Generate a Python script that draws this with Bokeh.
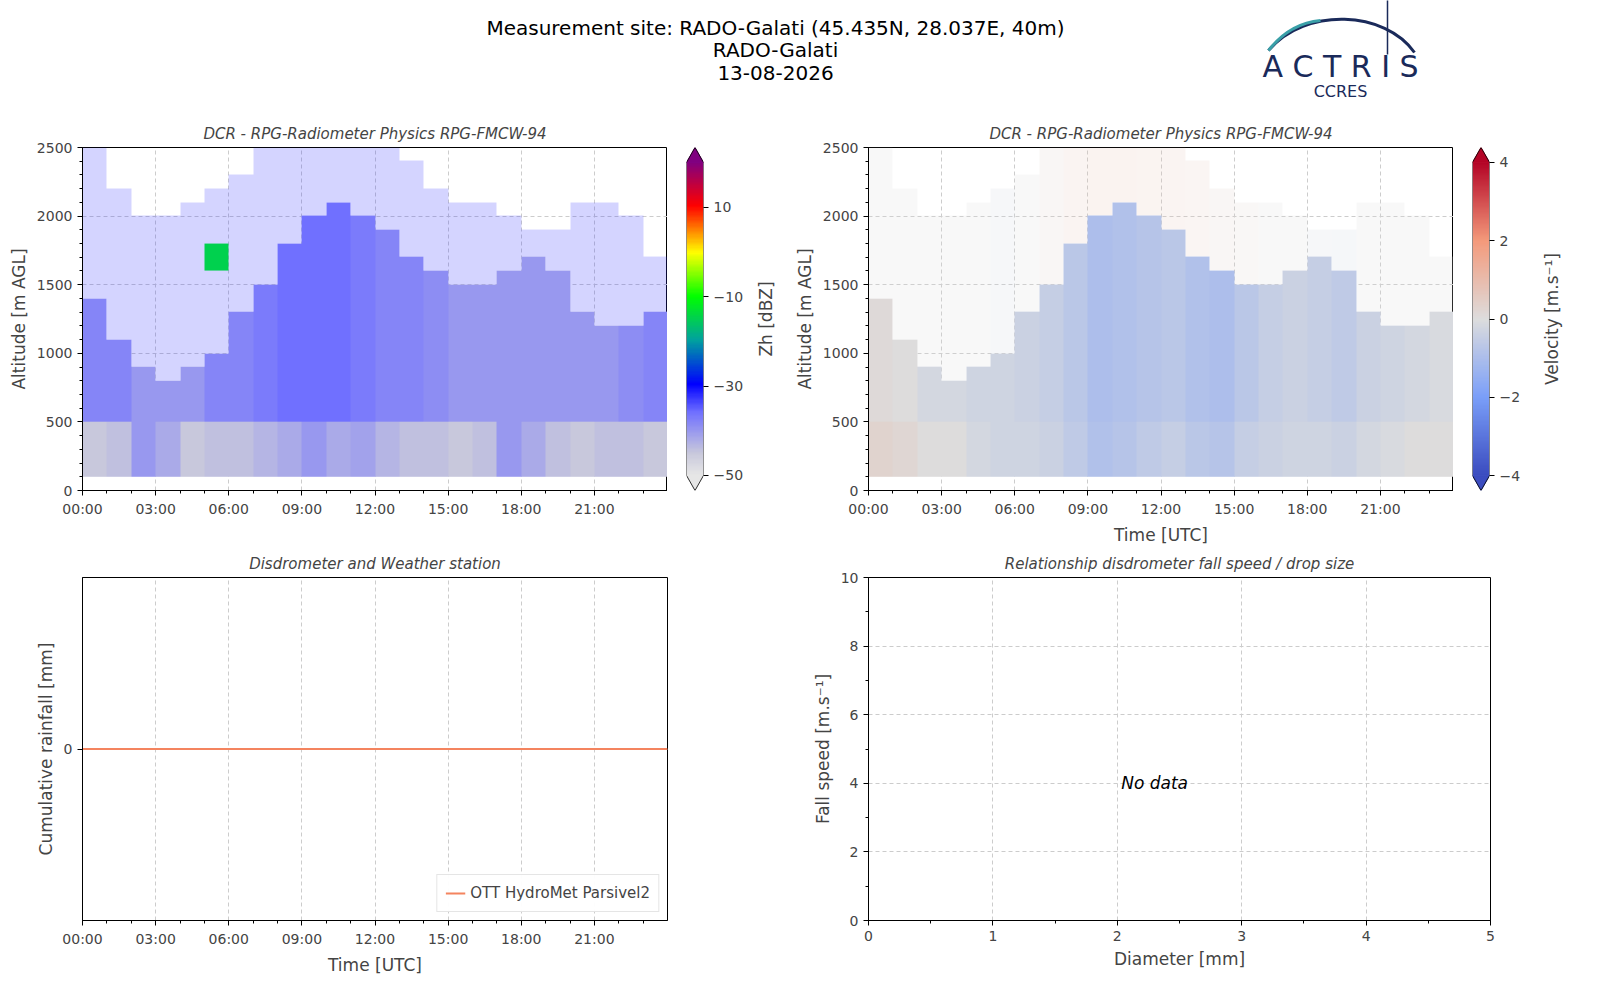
import numpy as np
from bokeh.plotting import figure
from bokeh.layouts import column, row
from bokeh.models import LinearColorMapper, FixedTicker, Legend, LegendItem
from bokeh.embed import file_html
from bokeh.resources import INLINE
from bokeh.core.properties import value

# ---------------- data ----------------
hours = list(range(24))
heights = list(range(100, 2500, 100))
time_ticks = [0, 3, 6, 9, 12, 15, 18, 21]
time_labels = ["00:00", "03:00", "06:00", "09:00", "12:00", "15:00", "18:00", "21:00"]

echo_top = [1400, 1100, 900, 800, 900, 1000, 1300, 1500, 1800, 2000, 2100, 2000,
            1900, 1700, 1600, 1500, 1500, 1600, 1700, 1600, 1300, 1200, 1200, 1300]
sparse_top = [2500, 2200, 2000, 2000, 2100, 2200, 2300, 2500, 2500, 2500, 2500, 2500,
              2500, 2400, 2200, 2100, 2100, 2000, 1900, 1900, 2100, 2100, 2000, 1700]
zh_low = [-45, -44, -40, -42, -45, -44, -44, -43, -42, -40, -42, -41,
          -43, -44, -44, -45, -44, -40, -42, -44, -45, -44, -44, -45]
zh_mid = [-38, -38, -40, -40, -40, -38, -38, -37, -36, -36, -36, -37,
          -38, -38, -39, -40, -40, -40, -40, -40, -40, -40, -39, -38]
zh_sparse = -32
blob_hour, blob_base, blob_top, blob_zh = 5, 1600, 1800, -15

v_low = [0.3, 0.2, 0.0, 0.0, -0.2, -0.3, -0.3, -0.4, -0.6, -0.9, -0.8, -0.6,
         -0.5, -0.7, -0.8, -0.5, -0.4, -0.3, -0.3, -0.4, -0.2, -0.1, 0.0, 0.0]
v_mid = [0.1, 0.0, -0.2, -0.2, -0.3, -0.3, -0.4, -0.5, -0.7, -1.0, -0.9, -0.8,
         -0.7, -0.9, -1.0, -0.7, -0.5, -0.4, -0.5, -0.6, -0.4, -0.3, -0.2, -0.1]
v_sparse = [0.0, 0.0, 0.0, 0.0, 0.0, -0.2, 0.0, 0.3, 0.6, 0.8, 0.8, 0.7,
            0.6, 0.5, 0.3, 0.2, 0.0, 0.0, -0.2, -0.3, 0.0, 0.0, 0.0, 0.0]

rain_time = [0, 24]
rain_cum = [0, 0]

# ---------------- grids ----------------
def build(low, mid, sparse_vals):
    nh, nt = len(heights), len(hours)
    dense = np.full((nh, nt), np.nan)
    sparse = np.full((nh, nt), np.nan)
    for j in range(nt):
        for i, h in enumerate(heights):
            if h < echo_top[j]:
                dense[i, j] = low[j] if h < 500 else mid[j]
            elif h < sparse_top[j]:
                sparse[i, j] = sparse_vals[j]
    return dense, sparse

zh_dense, zh_sp = build(zh_low, zh_mid, [zh_sparse] * 24)
for i, h in enumerate(heights):
    if blob_base <= h < blob_top:
        zh_dense[i, blob_hour] = blob_zh
v_dense, v_sp = build(v_low, v_mid, v_sparse)

# ---------------- palettes ----------------
def make_pal(anchors, n=256):
    pos = [a[0] for a in anchors]
    cols = [tuple(int(a[1][k:k + 2], 16) for k in (1, 3, 5)) for a in anchors]
    out = []
    for t in np.linspace(0, 1, n):
        r = [np.interp(t, pos, [c[k] for c in cols]) for k in range(3)]
        out.append("#%02x%02x%02x" % tuple(int(round(x)) for x in r))
    return out

zh_pal = make_pal([(0, "#e6e6e6"), (0.07, "#c8c8dc"), (0.2, "#7070ff"), (0.29, "#0000ff"),
                   (0.43, "#00a0a0"), (0.57, "#00ff00"), (0.71, "#ffff00"),
                   (0.86, "#ff0000"), (1.0, "#800080")])
v_pal = make_pal([(0, "#3b4cc0"), (0.25, "#7b9ff9"), (0.5, "#dddddd"),
                  (0.75, "#f49a7b"), (1.0, "#b40426")])
zh_map = LinearColorMapper(palette=zh_pal, low=-50, high=20, nan_color="rgba(0,0,0,0)")
v_map = LinearColorMapper(palette=v_pal, low=-4, high=4, nan_color="rgba(0,0,0,0)")

FONT = "DejaVu Sans"

def style(p, title=None):
    p.toolbar_location = None
    if title:
        p.title.text = title
        p.title.align = "center"
        p.title.text_font_style = "italic"
        p.title.text_font_size = "15px"
        p.title.text_font = FONT
    p.outline_line_color = "black"
    for ax in p.axis:
        ax.axis_label_text_font = FONT
        ax.axis_label_text_font_size = "17px"
        ax.axis_label_text_font_style = "normal"
        ax.major_label_text_font = FONT
        ax.major_label_text_font_size = "14px"
        ax.major_tick_out = 5
        ax.major_tick_in = 0
        ax.minor_tick_out = 3
        ax.minor_tick_in = 0
        ax.axis_line_color = "black"
    p.grid.grid_line_color = "#cccccc"
    p.grid.grid_line_dash = "4 3"
    p.background_fill_color = "white"

def time_axis(p):
    p.xaxis.ticker = FixedTicker(ticks=time_ticks, minor_ticks=hours)
    p.xaxis.major_label_overrides = {t: l for t, l in zip(time_ticks, time_labels)}

def radar_fig(dense, sparse, cmap, title, xlabel):
    p = figure(frame_width=585, frame_height=343, x_range=(0, 24), y_range=(0, 2500),
               output_backend="svg", toolbar_location=None,
               min_border_left=82, min_border_right=0, min_border_top=28, min_border_bottom=50)
    p.image(image=[sparse], x=0, y=100, dw=24, dh=2400, color_mapper=cmap, global_alpha=0.2)
    p.image(image=[dense], x=0, y=100, dw=24, dh=2400, color_mapper=cmap)
    style(p, title)
    time_axis(p)
    p.yaxis.ticker = FixedTicker(ticks=[0, 500, 1000, 1500, 2000, 2500],
                                 minor_ticks=list(range(0, 2600, 100)))
    p.yaxis.axis_label = "Altitude [m AGL]"
    if xlabel:
        p.xaxis.axis_label = xlabel
    return p

def cbar_fig(cmap, lo, hi, ext, ticks, label):
    p = figure(frame_width=17, frame_height=343, x_range=(0, 1), y_range=(lo - ext, hi + ext),
               output_backend="svg", toolbar_location=None, y_axis_location="right",
               min_border_left=19, min_border_right=46, min_border_top=28, min_border_bottom=50)
    p.image(image=[np.linspace(lo, hi, 256).reshape(-1, 1)], x=0, y=lo, dw=1, dh=hi - lo,
            color_mapper=cmap)
    p.patch([0, 1, 0.5], [hi, hi, hi + ext], color=cmap.palette[-1])
    p.patch([0, 1, 0.5], [lo, lo, lo - ext], color=cmap.palette[0])
    p.line([0, 0.5, 1, 1, 0.5, 0, 0], [lo, lo - ext, lo, hi, hi + ext, hi, lo],
           line_color="black", line_width=0.8)
    style(p)
    p.outline_line_color = None
    p.xaxis.visible = False
    p.grid.visible = False
    p.yaxis.ticker = FixedTicker(ticks=ticks)
    p.yaxis.axis_line_color = None

    # label strip: a left axis that shows only its label (reads bottom to top)
    q = figure(frame_width=1, frame_height=343, x_range=(0, 1), y_range=(lo - ext, hi + ext),
               output_backend="svg", toolbar_location=None,
               min_border_left=26, min_border_right=7, min_border_top=28, min_border_bottom=50)
    style(q)
    q.outline_line_color = None
    q.xaxis.visible = False
    q.grid.visible = False
    q.yaxis.ticker = FixedTicker(ticks=[])
    q.yaxis.axis_line_color = None
    q.yaxis.major_tick_out = 0
    q.yaxis.minor_tick_out = 0
    q.yaxis.major_label_text_font_size = "0px"
    q.yaxis.axis_label = label
    q.yaxis.axis_label_standoff = 0
    return p, q

f1 = radar_fig(zh_dense, zh_sp, zh_map, "DCR - RPG-Radiometer Physics RPG-FMCW-94", None)
c1, l1 = cbar_fig(zh_map, -50, 20, 3.36, [-50, -30, -10, 10], "Zh [dBZ]")
f2 = radar_fig(v_dense, v_sp, v_map, "DCR - RPG-Radiometer Physics RPG-FMCW-94", "Time [UTC]")
f2.min_border_left = 85
c2, l2 = cbar_fig(v_map, -4, 4, 0.38, [-4, -2, 0, 2, 4], "Velocity [m.s⁻¹]")

f3 = figure(frame_width=585, frame_height=343, x_range=(0, 24), y_range=(-0.05, 0.05),
            output_backend="svg", toolbar_location=None,
            min_border_left=82, min_border_right=116, min_border_top=28, min_border_bottom=60)
r = f3.line(rain_time, rain_cum, line_color="#f4845f", line_width=2)
style(f3, "Disdrometer and Weather station")
time_axis(f3)
f3.yaxis.ticker = FixedTicker(ticks=[0])
f3.yaxis.axis_label = "Cumulative rainfall [mm]"
f3.xaxis.axis_label = "Time [UTC]"
leg = Legend(items=[LegendItem(label="OTT HydroMet Parsivel2", renderers=[r])],
             location="bottom_right", label_text_font=FONT, label_text_font_size="15px",
             border_line_color="#cccccc", label_height=18, padding=8, margin=8)
f3.add_layout(leg)

f4 = figure(frame_width=622, frame_height=343, x_range=(0, 5), y_range=(0, 10),
            output_backend="svg", toolbar_location=None,
            min_border_left=85, min_border_right=10, min_border_top=28, min_border_bottom=60)
style(f4, "Relationship disdrometer fall speed / drop size")
f4.xaxis.ticker = FixedTicker(ticks=[0, 1, 2, 3, 4, 5], minor_ticks=list(np.arange(0, 5.01, 0.5)))
f4.yaxis.ticker = FixedTicker(ticks=[0, 2, 4, 6, 8, 10], minor_ticks=list(range(0, 11)))
f4.xaxis.axis_label = "Diameter [mm]"
f4.yaxis.axis_label = "Fall speed [m.s⁻¹]"
f4.text(x=[2.3], y=[4], text=["No data"], text_align="center", text_baseline="middle",
        text_font=value(FONT), text_font_style="italic", text_font_size="17px")

# header
h = figure(width=1560, height=117, x_range=(0, 1560), y_range=(117, 0),
           output_backend="svg", toolbar_location=None, min_border=0)
h.axis.visible = False
h.grid.visible = False
h.outline_line_color = None
h.text(x=[775, 775, 775], y=[27, 49, 72],
       text=["Measurement site: RADO-Galati (45.435N, 28.037E, 40m)", "RADO-Galati", "13-08-2026"],
       text_align="center", text_baseline="middle", text_font=value(FONT), text_font_size="20px")
h.bezier(x0=[1268], y0=[50], x1=[1414], y1=[52], cx0=[1305], cy0=[6], cx1=[1385], cy1=[10],
         line_color="#1a2a5a", line_width=3)
h.bezier(x0=[1268], y0=[50], x1=[1320], y1=[20], cx0=[1282], cy0=[32], cx1=[1298], cy1=[22],
         line_color="#3aa0a8", line_width=3)
h.segment(x0=[1387], y0=[-5], x1=[1387], y1=[54], line_color="#1a2a5a", line_width=1.5)
h.text(x=[1340], y=[66], text=["A C T R I S"], text_align="center", text_baseline="middle",
       text_font=value(FONT), text_font_size="30px", text_color="#1a2a5a")
h.text(x=[1340], y=[91], text=["CCRES"], text_align="center", text_baseline="middle",
       text_font=value(FONT), text_font_size="16px", text_color="#1a2a5a")

layout = column(h, row(f1, c1, l1, f2, c2, l2), row(f3, f4), spacing=0)
open("out.html", "w").write(file_html(layout, INLINE))
